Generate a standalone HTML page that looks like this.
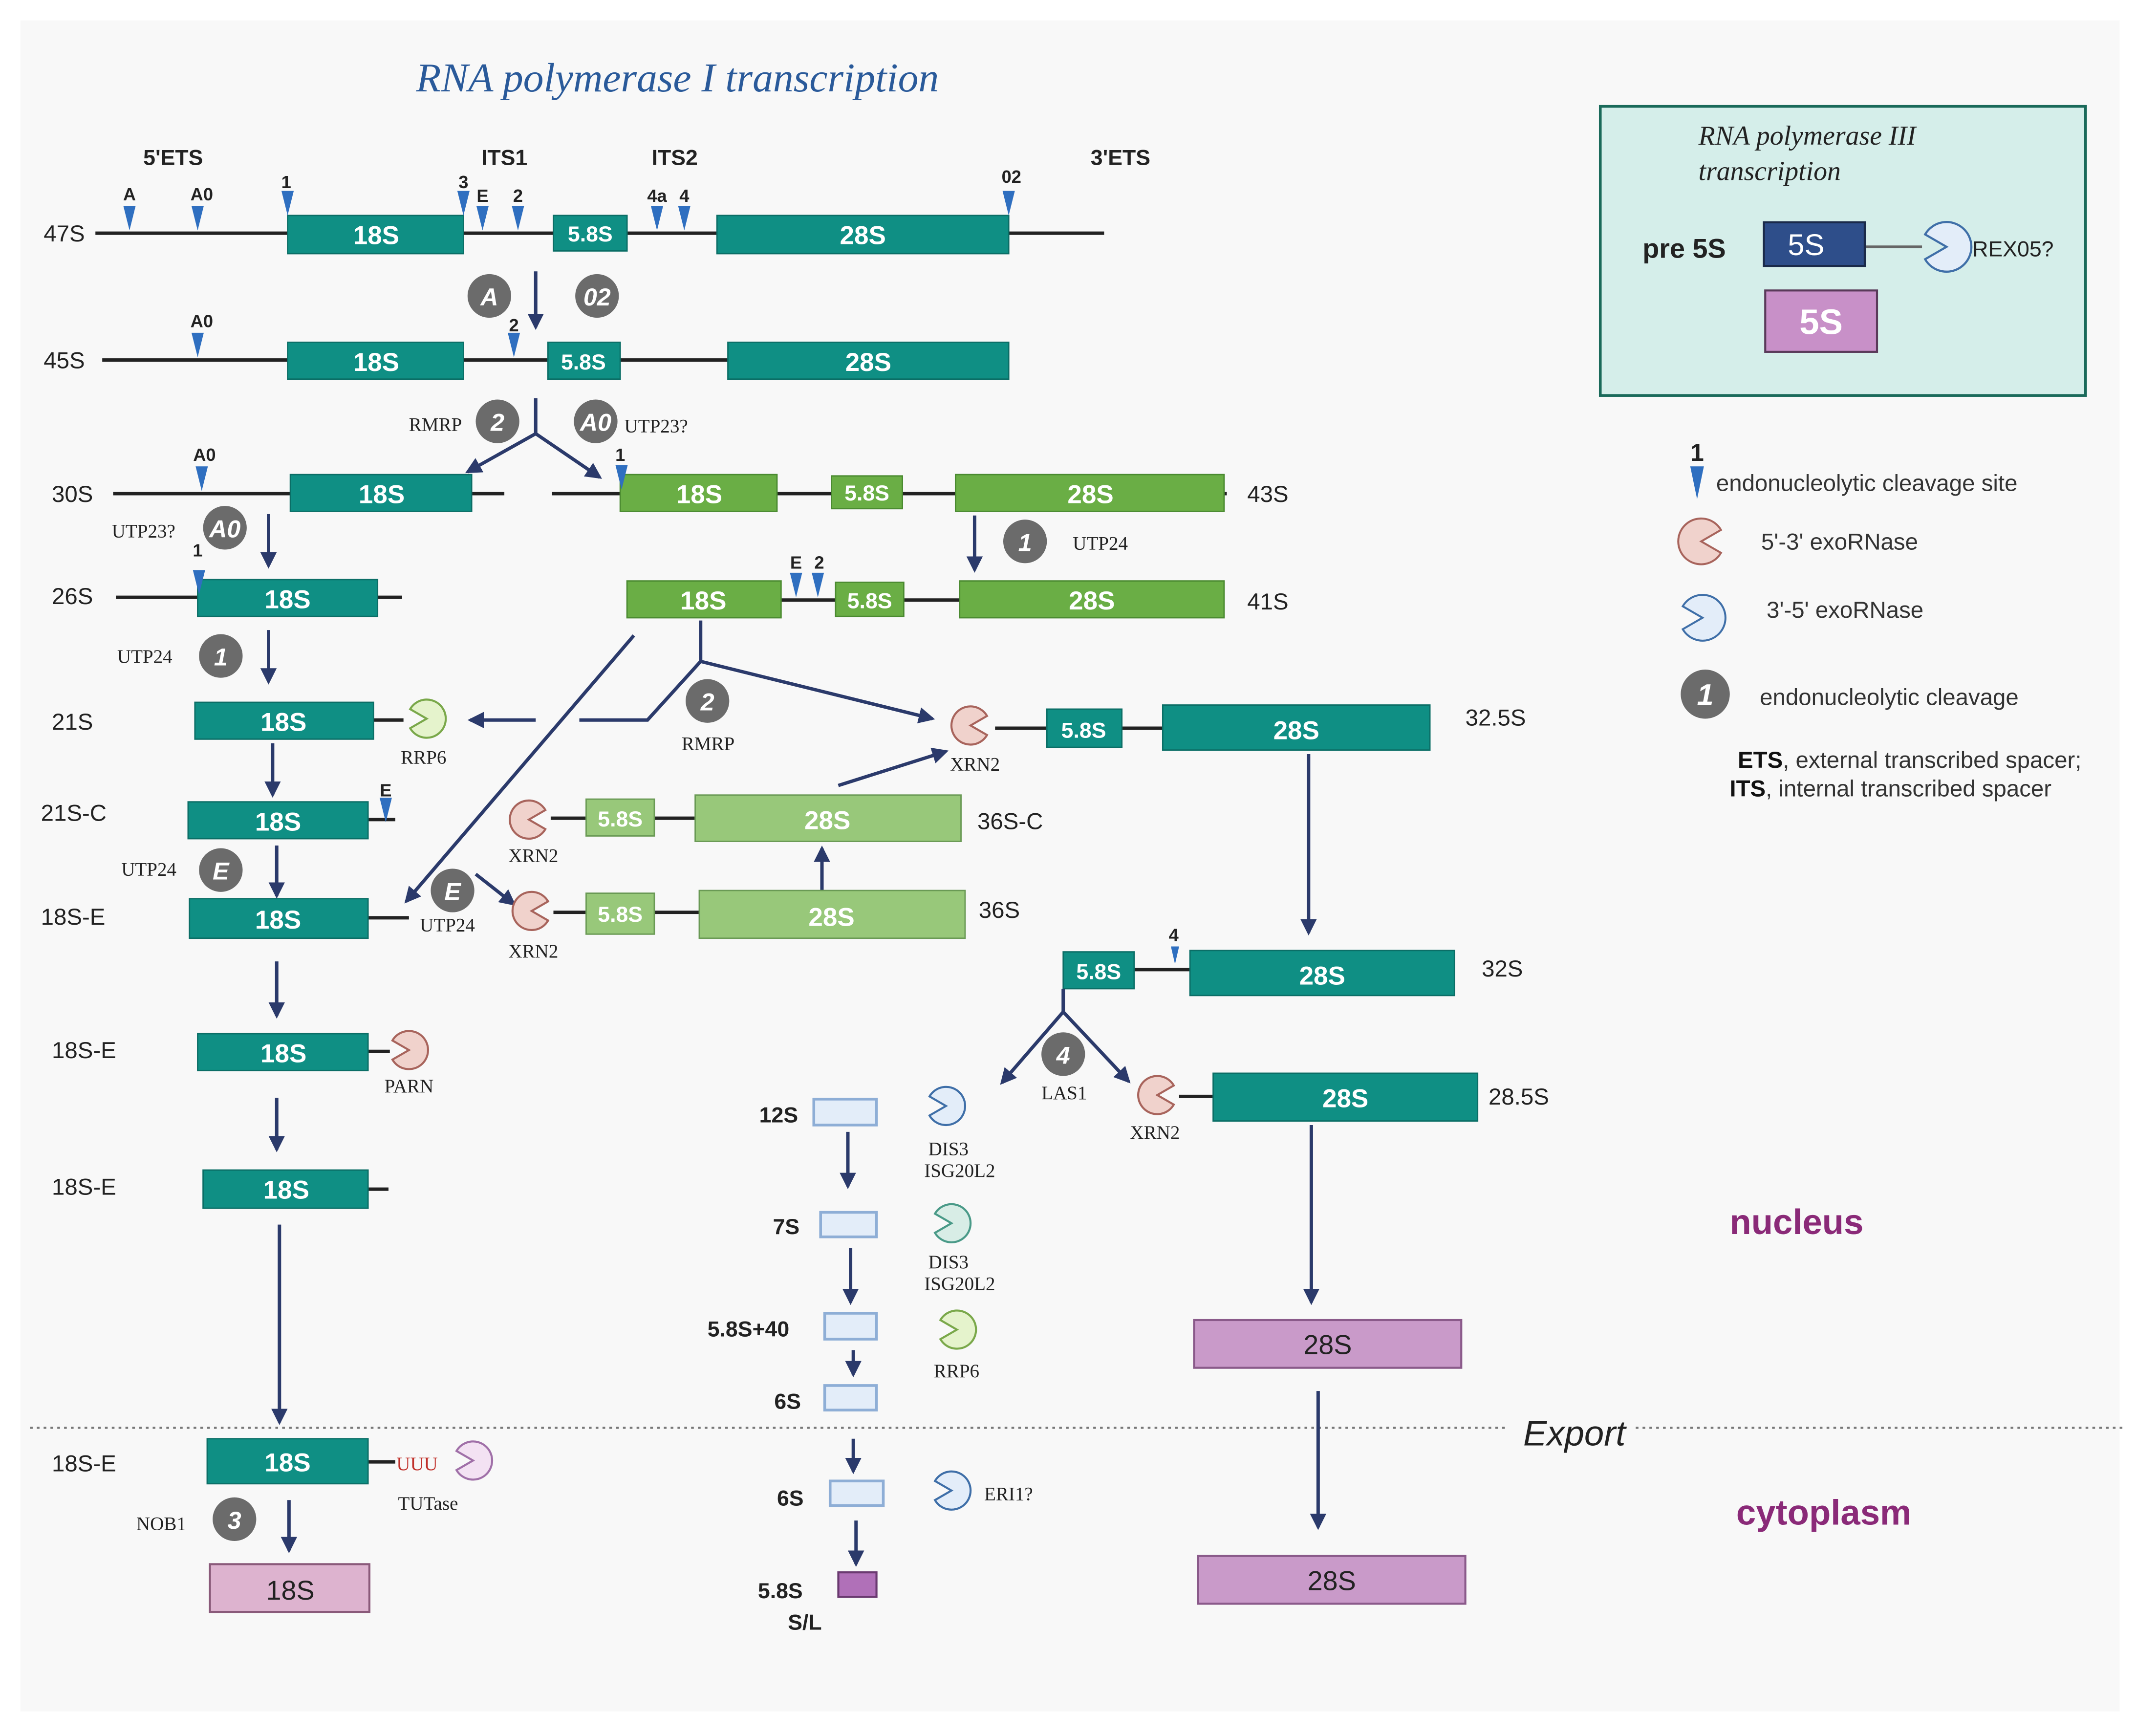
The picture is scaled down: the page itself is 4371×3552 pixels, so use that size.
<!DOCTYPE html>
<html><head><meta charset="utf-8"><style>
html,body{margin:0;padding:0;background:#fff;}
svg{display:block;}
.lb{font-family:"Liberation Sans",sans-serif;font-size:17px;fill:#222;}
.lbb{font-family:"Liberation Sans",sans-serif;font-size:16px;font-weight:bold;fill:#222;}
.sf{font-family:"Liberation Serif",serif;font-size:14px;fill:#222;}
.bx{font-family:"Liberation Sans",sans-serif;font-size:19px;font-weight:bold;fill:#fff;text-anchor:middle;}
.bxs{font-family:"Liberation Sans",sans-serif;font-size:16px;font-weight:bold;fill:#fff;text-anchor:middle;}
.mk{font-family:"Liberation Sans",sans-serif;font-size:13px;font-weight:bold;fill:#222;text-anchor:middle;}
.ci{font-family:"Liberation Sans",sans-serif;font-size:18px;font-weight:bold;font-style:italic;fill:#fff;text-anchor:middle;}
.t{fill:#0f8f84;stroke:#0b6e66;stroke-width:1;}
.g{fill:#6aae45;stroke:#4a8a30;stroke-width:1;}
.lg{fill:#98c87a;stroke:#6a9a55;stroke-width:1;}
.lbx{fill:#e3edf9;stroke:#8eaed6;stroke-width:2;}
.ln{stroke:#222;stroke-width:2.5;fill:none;}
.ar{stroke:#2b3a6b;stroke-width:2.5;fill:none;marker-end:url(#ah);}
</style></head><body>
<svg width="4371" height="3552" viewBox="0 0 1567 1273" preserveAspectRatio="none" xmlns="http://www.w3.org/2000/svg">
<defs>
<marker id="ah" markerUnits="userSpaceOnUse" markerWidth="14" markerHeight="14" refX="10" refY="6" orient="auto"><path d="M0,0 L12,6 L0,12 Z" fill="#2b3a6b"/></marker>
<polygon id="tri" points="-4.5,0 4.5,0 0,18" fill="#2f6fc0"/>
<path id="pR" d="M0,0 L12.1,-7 A14,14 0 1,0 12.1,7 Z"/>
<path id="pL" d="M0,0 L-12.1,-7 A14,14 0 1,1 -12.1,7 Z"/>
<circle id="gc" r="16" fill="#6b6b6b"/>
</defs>
<rect width="1567" height="1273" fill="#fff"/>
<rect x="15" y="15" width="1540" height="1240" fill="#f8f8f8"/>

<text x="497" y="67" text-anchor="middle" style="font-family:'Liberation Serif',serif;font-size:30px;font-style:italic;fill:#2a5a9a">RNA polymerase I transcription</text>
<text x="127" y="121" text-anchor="middle" class="lbb">5'ETS</text>
<text x="370" y="121" text-anchor="middle" class="lbb">ITS1</text>
<text x="495" y="121" text-anchor="middle" class="lbb">ITS2</text>
<text x="822" y="121" text-anchor="middle" class="lbb">3'ETS</text>

<text x="32" y="177" class="lb">47S</text>
<line x1="70" y1="171" x2="810" y2="171" class="ln"/>
<rect x="211" y="158" width="129" height="28" class="t"/><text x="276" y="179" class="bx">18S</text>
<rect x="406" y="158" width="54" height="26" class="t"/><text x="433" y="177" class="bxs">5.8S</text>
<rect x="526" y="158" width="214" height="28" class="t"/><text x="633" y="179" class="bx">28S</text>
<use href="#tri" x="95" y="151"/><text x="95" y="147" class="mk">A</text>
<use href="#tri" x="145" y="151"/><text x="148" y="147" class="mk">A0</text>
<use href="#tri" x="211" y="140"/><text x="210" y="138" class="mk">1</text>
<use href="#tri" x="340" y="140"/><text x="340" y="138" class="mk">3</text>
<use href="#tri" x="354" y="151"/><text x="354" y="148" class="mk">E</text>
<use href="#tri" x="380" y="151"/><text x="380" y="148" class="mk">2</text>
<use href="#tri" x="482" y="151"/><text x="482" y="148" class="mk">4a</text>
<use href="#tri" x="502" y="151"/><text x="502" y="148" class="mk">4</text>
<use href="#tri" x="740" y="140"/><text x="742" y="134" class="mk">02</text>

<line x1="393" y1="199" x2="393" y2="240" class="ar"/>
<use href="#gc" x="359" y="217"/><text x="359" y="224" class="ci">A</text>
<use href="#gc" x="438" y="217"/><text x="438" y="224" class="ci">02</text>

<text x="32" y="270" class="lb">45S</text>
<line x1="75" y1="264" x2="740" y2="264" class="ln"/>
<rect x="211" y="251" width="129" height="27" class="t"/><text x="276" y="272" class="bx">18S</text>
<rect x="402" y="251" width="53" height="27" class="t"/><text x="428" y="271" class="bxs">5.8S</text>
<rect x="534" y="251" width="206" height="27" class="t"/><text x="637" y="272" class="bx">28S</text>
<use href="#tri" x="145" y="244"/><text x="148" y="240" class="mk">A0</text>
<use href="#tri" x="377" y="244"/><text x="377" y="243" class="mk">2</text>

<polyline points="393,292 393,318" class="ln" style="stroke:#2b3a6b"/>
<line x1="393" y1="318" x2="343" y2="346" class="ar"/>
<line x1="393" y1="318" x2="440" y2="350" class="ar"/>
<use href="#gc" x="365" y="309"/><text x="365" y="316" class="ci">2</text>
<use href="#gc" x="437" y="309"/><text x="437" y="316" class="ci">A0</text>
<text x="300" y="316" class="sf">RMRP</text>
<text x="458" y="317" class="sf">UTP23?</text>

<text x="38" y="368" class="lb">30S</text>
<line x1="83" y1="362" x2="370" y2="362" class="ln"/>
<rect x="213" y="348" width="133" height="27" class="t"/><text x="280" y="369" class="bx">18S</text>
<use href="#tri" x="148" y="342"/><text x="150" y="338" class="mk">A0</text>
<line x1="405" y1="362" x2="900" y2="362" class="ln"/>
<rect x="455" y="348" width="115" height="27" class="g"/><text x="513" y="369" class="bx">18S</text>
<rect x="610" y="349" width="52" height="24" class="g"/><text x="636" y="367" class="bxs">5.8S</text>
<rect x="701" y="348" width="197" height="27" class="g"/><text x="800" y="369" class="bx">28S</text>
<use href="#tri" x="456" y="341"/><text x="455" y="338" class="mk">1</text>
<text x="915" y="368" class="lb">43S</text>

<line x1="197" y1="377" x2="197" y2="415" class="ar"/>
<use href="#gc" x="165" y="387"/><text x="165" y="394" class="ci">A0</text>
<text x="82" y="394" class="sf">UTP23?</text>
<line x1="715" y1="378" x2="715" y2="418" class="ar"/>
<use href="#gc" x="752" y="397"/><text x="752" y="404" class="ci">1</text>
<text x="787" y="403" class="sf">UTP24</text>

<text x="38" y="443" class="lb">26S</text>
<line x1="85" y1="438" x2="295" y2="438" class="ln"/>
<rect x="145" y="425" width="132" height="27" class="t"/><text x="211" y="446" class="bx">18S</text>
<use href="#tri" x="146" y="418"/><text x="145" y="408" class="mk">1</text>
<line x1="573" y1="440" x2="704" y2="440" class="ln"/>
<rect x="460" y="426" width="113" height="27" class="g"/><text x="516" y="447" class="bx">18S</text>
<rect x="613" y="427" width="50" height="25" class="g"/><text x="638" y="446" class="bxs">5.8S</text>
<rect x="704" y="426" width="194" height="27" class="g"/><text x="801" y="447" class="bx">28S</text>
<use href="#tri" x="584" y="420"/><text x="584" y="417" class="mk">E</text>
<use href="#tri" x="600" y="420"/><text x="601" y="417" class="mk">2</text>
<text x="915" y="447" class="lb">41S</text>

<text x="86" y="486" class="sf">UTP24</text>
<use href="#gc" x="162" y="481"/><text x="162" y="488" class="ci">1</text>
<line x1="197" y1="462" x2="197" y2="500" class="ar"/>

<polyline points="514,455 514,485 475,528 425,528" class="ln" style="stroke:#2b3a6b"/>
<line x1="514" y1="485" x2="684" y2="527" class="ar"/>
<line x1="465" y1="466" x2="298" y2="661" class="ar"/>
<line x1="393" y1="528" x2="345" y2="528" class="ar"/>
<use href="#gc" x="519" y="514"/><text x="519" y="521" class="ci">2</text>
<text x="500" y="550" class="sf">RMRP</text>

<text x="38" y="535" class="lb">21S</text>
<line x1="274" y1="528" x2="296" y2="528" class="ln"/>
<rect x="143" y="515" width="131" height="27" class="t"/><text x="208" y="536" class="bx">18S</text>
<use href="#pL" x="313" y="527" fill="#e5f3cc" stroke="#7aa84a" stroke-width="1.5"/>
<text x="294" y="560" class="sf">RRP6</text>

<use href="#pR" x="712" y="532" fill="#f0d2cc" stroke="#a8645c" stroke-width="1.5"/>
<text x="697" y="565" class="sf">XRN2</text>
<line x1="730" y1="534" x2="853" y2="534" class="ln"/>
<rect x="768" y="520" width="55" height="28" class="t"/><text x="795" y="541" class="bxs">5.8S</text>
<rect x="853" y="517" width="196" height="33" class="t"/><text x="951" y="542" class="bx">28S</text>
<text x="1075" y="532" class="lb">32.5S</text>
<line x1="960" y1="553" x2="960" y2="684" class="ar"/>

<line x1="200" y1="545" x2="200" y2="583" class="ar"/>
<text x="30" y="602" class="lb">21S-C</text>
<line x1="270" y1="601" x2="290" y2="601" class="ln"/>
<rect x="138" y="588" width="132" height="27" class="t"/><text x="204" y="609" class="bx">18S</text>
<use href="#tri" x="283" y="585"/><text x="283" y="584" class="mk">E</text>
<text x="89" y="642" class="sf">UTP24</text>
<use href="#gc" x="162" y="638"/><text x="162" y="645" class="ci">E</text>
<line x1="203" y1="620" x2="203" y2="657" class="ar"/>

<use href="#pR" x="388" y="601" fill="#f0d2cc" stroke="#a8645c" stroke-width="1.5"/>
<text x="373" y="632" class="sf">XRN2</text>
<line x1="404" y1="600" x2="510" y2="600" class="ln"/>
<rect x="430" y="586" width="50" height="27" class="lg"/><text x="455" y="606" class="bxs">5.8S</text>
<rect x="510" y="583" width="195" height="34" class="lg"/><text x="607" y="608" class="bx">28S</text>
<text x="717" y="608" class="lb">36S-C</text>
<line x1="615" y1="576" x2="694" y2="551" class="ar"/>
<line x1="603" y1="655" x2="603" y2="622" class="ar"/>

<text x="30" y="678" class="lb">18S-E</text>
<line x1="270" y1="673" x2="300" y2="673" class="ln"/>
<rect x="139" y="659" width="131" height="29" class="t"/><text x="204" y="681" class="bx">18S</text>
<text x="308" y="683" class="sf">UTP24</text>
<line x1="349" y1="641" x2="377" y2="663" class="ar"/>
<use href="#gc" x="332" y="653"/><text x="332" y="660" class="ci">E</text>
<use href="#pR" x="390" y="668" fill="#f0d2cc" stroke="#a8645c" stroke-width="1.5"/>
<text x="373" y="702" class="sf">XRN2</text>
<line x1="406" y1="669" x2="513" y2="669" class="ln"/>
<rect x="430" y="655" width="50" height="30" class="lg"/><text x="455" y="676" class="bxs">5.8S</text>
<rect x="513" y="653" width="195" height="35" class="lg"/><text x="610" y="679" class="bx">28S</text>
<text x="718" y="673" class="lb">36S</text>

<line x1="203" y1="705" x2="203" y2="745" class="ar"/>
<text x="38" y="776" class="lb">18S-E</text>
<line x1="270" y1="771" x2="286" y2="771" class="ln"/>
<rect x="145" y="758" width="125" height="27" class="t"/><text x="208" y="779" class="bx">18S</text>
<use href="#pL" x="300" y="770" fill="#f0d2cc" stroke="#a8645c" stroke-width="1.5"/>
<text x="282" y="801" class="sf">PARN</text>
<line x1="203" y1="805" x2="203" y2="843" class="ar"/>
<text x="38" y="876" class="lb">18S-E</text>
<line x1="270" y1="872" x2="285" y2="872" class="ln"/>
<rect x="149" y="858" width="121" height="28" class="t"/><text x="210" y="879" class="bx">18S</text>
<line x1="205" y1="898" x2="205" y2="1043" class="ar"/>

<line x1="832" y1="711" x2="873" y2="711" class="ln"/>
<rect x="780" y="698" width="52" height="27" class="t"/><text x="806" y="718" class="bxs">5.8S</text>
<rect x="873" y="697" width="194" height="33" class="t"/><text x="970" y="722" class="bx">28S</text>
<polygon points="859,694 865,694 862,707" fill="#2f6fc0"/><text x="861" y="690" class="mk">4</text>
<text x="1087" y="716" class="lb">32S</text>
<polyline points="780,725 780,742" class="ln" style="stroke:#2b3a6b"/>
<line x1="780" y1="742" x2="735" y2="794" class="ar"/>
<line x1="780" y1="742" x2="828" y2="793" class="ar"/>
<use href="#gc" x="780" y="773"/><text x="780" y="780" class="ci">4</text>
<text x="764" y="806" class="sf">LAS1</text>

<use href="#pR" x="849" y="803" fill="#f0d2cc" stroke="#a8645c" stroke-width="1.5"/>
<text x="829" y="835" class="sf">XRN2</text>
<line x1="865" y1="804" x2="890" y2="804" class="ln"/>
<rect x="890" y="787" width="194" height="35" class="t"/><text x="987" y="812" class="bx">28S</text>
<text x="1092" y="810" class="lb">28.5S</text>
<line x1="962" y1="825" x2="962" y2="955" class="ar"/>

<text x="557" y="823" class="lbb">12S</text>
<rect x="597" y="806" width="46" height="19" class="lbx"/>
<use href="#pL" x="694" y="811" fill="#e3edf9" stroke="#3f6fa8" stroke-width="1.5"/>
<text x="681" y="847" class="sf">DIS3</text><text x="678" y="863" class="sf">ISG20L2</text>
<line x1="622" y1="830" x2="622" y2="870" class="ar"/>
<text x="567" y="905" class="lbb">7S</text>
<rect x="602" y="889" width="41" height="18" class="lbx"/>
<use href="#pL" x="698" y="897" fill="#d8ede6" stroke="#4a9a88" stroke-width="1.5"/>
<text x="681" y="930" class="sf">DIS3</text><text x="678" y="946" class="sf">ISG20L2</text>
<line x1="624" y1="915" x2="624" y2="955" class="ar"/>
<text x="519" y="980" class="lbb">5.8S+40</text>
<rect x="605" y="963" width="38" height="19" class="lbx"/>
<use href="#pL" x="702" y="975" fill="#e5f3cc" stroke="#7aa84a" stroke-width="1.5"/>
<text x="685" y="1010" class="sf">RRP6</text>
<line x1="626" y1="990" x2="626" y2="1008" class="ar"/>
<text x="568" y="1033" class="lbb">6S</text>
<rect x="605" y="1016" width="38" height="18" class="lbx"/>

<line x1="22" y1="1047" x2="1105" y2="1047" stroke="#777" stroke-width="1.5" stroke-dasharray="2,3"/>
<line x1="1200" y1="1047" x2="1560" y2="1047" stroke="#777" stroke-width="1.5" stroke-dasharray="2,3"/>
<text x="1155" y="1060" text-anchor="middle" style="font-family:'Liberation Sans',sans-serif;font-size:26px;font-style:italic;fill:#222">Export</text>

<line x1="626" y1="1055" x2="626" y2="1079" class="ar"/>
<text x="570" y="1104" class="lbb">6S</text>
<rect x="609" y="1086" width="39" height="18" class="lbx"/>
<use href="#pL" x="698" y="1093" fill="#e3edf9" stroke="#3f6fa8" stroke-width="1.5"/>
<text x="722" y="1100" class="sf">ERI1?</text>
<line x1="628" y1="1115" x2="628" y2="1147" class="ar"/>
<text x="556" y="1172" class="lbb">5.8S</text>
<text x="578" y="1195" class="lbb">S/L</text>
<rect x="615" y="1153" width="28" height="18" fill="#b070b8" stroke="#6a3a70" stroke-width="1.5"/>

<rect x="876" y="968" width="196" height="35" fill="#c99ac9" stroke="#8a5a8a" stroke-width="1.5"/>
<text x="974" y="993" text-anchor="middle" style="font-family:'Liberation Sans',sans-serif;font-size:20px;fill:#222">28S</text>
<line x1="967" y1="1020" x2="967" y2="1120" class="ar"/>
<rect x="879" y="1141" width="196" height="35" fill="#c99ac9" stroke="#8a5a8a" stroke-width="1.5"/>
<text x="977" y="1166" text-anchor="middle" style="font-family:'Liberation Sans',sans-serif;font-size:20px;fill:#222">28S</text>

<text x="1318" y="905" text-anchor="middle" style="font-family:'Liberation Sans',sans-serif;font-size:26px;font-weight:bold;fill:#8a2a78">nucleus</text>
<text x="1338" y="1118" text-anchor="middle" style="font-family:'Liberation Sans',sans-serif;font-size:26px;font-weight:bold;fill:#8a2a78">cytoplasm</text>

<text x="38" y="1079" class="lb">18S-E</text>
<line x1="270" y1="1072" x2="290" y2="1072" class="ln"/>
<rect x="152" y="1055" width="118" height="33" class="t"/><text x="211" y="1079" class="bx">18S</text>
<text x="306" y="1078" text-anchor="middle" style="font-family:'Liberation Serif',serif;font-size:14px;fill:#c0302a">UUU</text>
<use href="#pL" x="347" y="1071" fill="#f3e2f3" stroke="#a070a8" stroke-width="1.5"/>
<text x="292" y="1107" class="sf">TUTase</text>
<text x="100" y="1122" class="sf">NOB1</text>
<use href="#gc" x="172" y="1114"/><text x="172" y="1121" class="ci">3</text>
<line x1="212" y1="1100" x2="212" y2="1137" class="ar"/>
<rect x="154" y="1147" width="117" height="35" fill="#ddb3cf" stroke="#8a5a7a" stroke-width="1.5"/>
<text x="213" y="1173" text-anchor="middle" style="font-family:'Liberation Sans',sans-serif;font-size:20px;fill:#222">18S</text>

<rect x="1174" y="78" width="356" height="212" fill="#d5eeea" stroke="#1a6a5a" stroke-width="2"/>
<text x="1246" y="106" style="font-family:'Liberation Serif',serif;font-size:20px;font-style:italic;fill:#222">RNA polymerase III</text>
<text x="1246" y="132" style="font-family:'Liberation Serif',serif;font-size:20px;font-style:italic;fill:#222">transcription</text>
<text x="1205" y="189" style="font-family:'Liberation Sans',sans-serif;font-size:20px;font-weight:bold;fill:#222">pre 5S</text>
<line x1="1368" y1="181" x2="1410" y2="181" stroke="#666" stroke-width="2"/>
<rect x="1294" y="163" width="74" height="32" fill="#2e4e8a" stroke="#1a2a4a" stroke-width="1.5"/>
<text x="1325" y="187" text-anchor="middle" style="font-family:'Liberation Sans',sans-serif;font-size:22px;fill:#fff">5S</text>
<g transform="translate(1428,181) scale(1.3)"><use href="#pL" fill="#e3edf9" stroke="#3f6fa8" stroke-width="1.2"/></g>
<text x="1447" y="188" style="font-family:'Liberation Sans',sans-serif;font-size:16px;fill:#222">REX05?</text>
<rect x="1295" y="213" width="82" height="45" fill="#c890c8" stroke="#5a3a5a" stroke-width="1.5"/>
<text x="1336" y="245" text-anchor="middle" style="font-family:'Liberation Sans',sans-serif;font-size:26px;font-weight:bold;fill:#fff">5S</text>

<text x="1245" y="338" text-anchor="middle" style="font-family:'Liberation Sans',sans-serif;font-size:18px;font-weight:bold;fill:#222">1</text>
<polygon points="1240,342 1250,342 1245,366" fill="#2f6fc0"/>
<text x="1259" y="360" style="font-family:'Liberation Sans',sans-serif;font-size:17px;fill:#333">endonucleolytic cleavage site</text>
<g transform="translate(1248,397) scale(1.2)"><use href="#pR" fill="#f0d2cc" stroke="#a8645c" stroke-width="1.2"/></g>
<text x="1292" y="403" style="font-family:'Liberation Sans',sans-serif;font-size:17px;fill:#333">5'-3' exoRNase</text>
<g transform="translate(1249,453) scale(1.2)"><use href="#pL" fill="#e3edf9" stroke="#3f6fa8" stroke-width="1.2"/></g>
<text x="1296" y="453" style="font-family:'Liberation Sans',sans-serif;font-size:17px;fill:#333">3'-5' exoRNase</text>
<circle cx="1251" cy="509" r="18" fill="#6b6b6b"/><text x="1251" y="517" class="ci" style="font-size:22px">1</text>
<text x="1291" y="517" style="font-family:'Liberation Sans',sans-serif;font-size:17px;fill:#333">endonucleolytic cleavage</text>
<text x="1527" y="563" text-anchor="end" style="font-family:'Liberation Sans',sans-serif;font-size:17px;fill:#333"><tspan font-weight="bold" fill="#111">ETS</tspan>, external transcribed spacer;</text>
<text x="1505" y="584" text-anchor="end" style="font-family:'Liberation Sans',sans-serif;font-size:17px;fill:#333"><tspan font-weight="bold" fill="#111">ITS</tspan>, internal transcribed spacer</text>
</svg>
</body></html>
